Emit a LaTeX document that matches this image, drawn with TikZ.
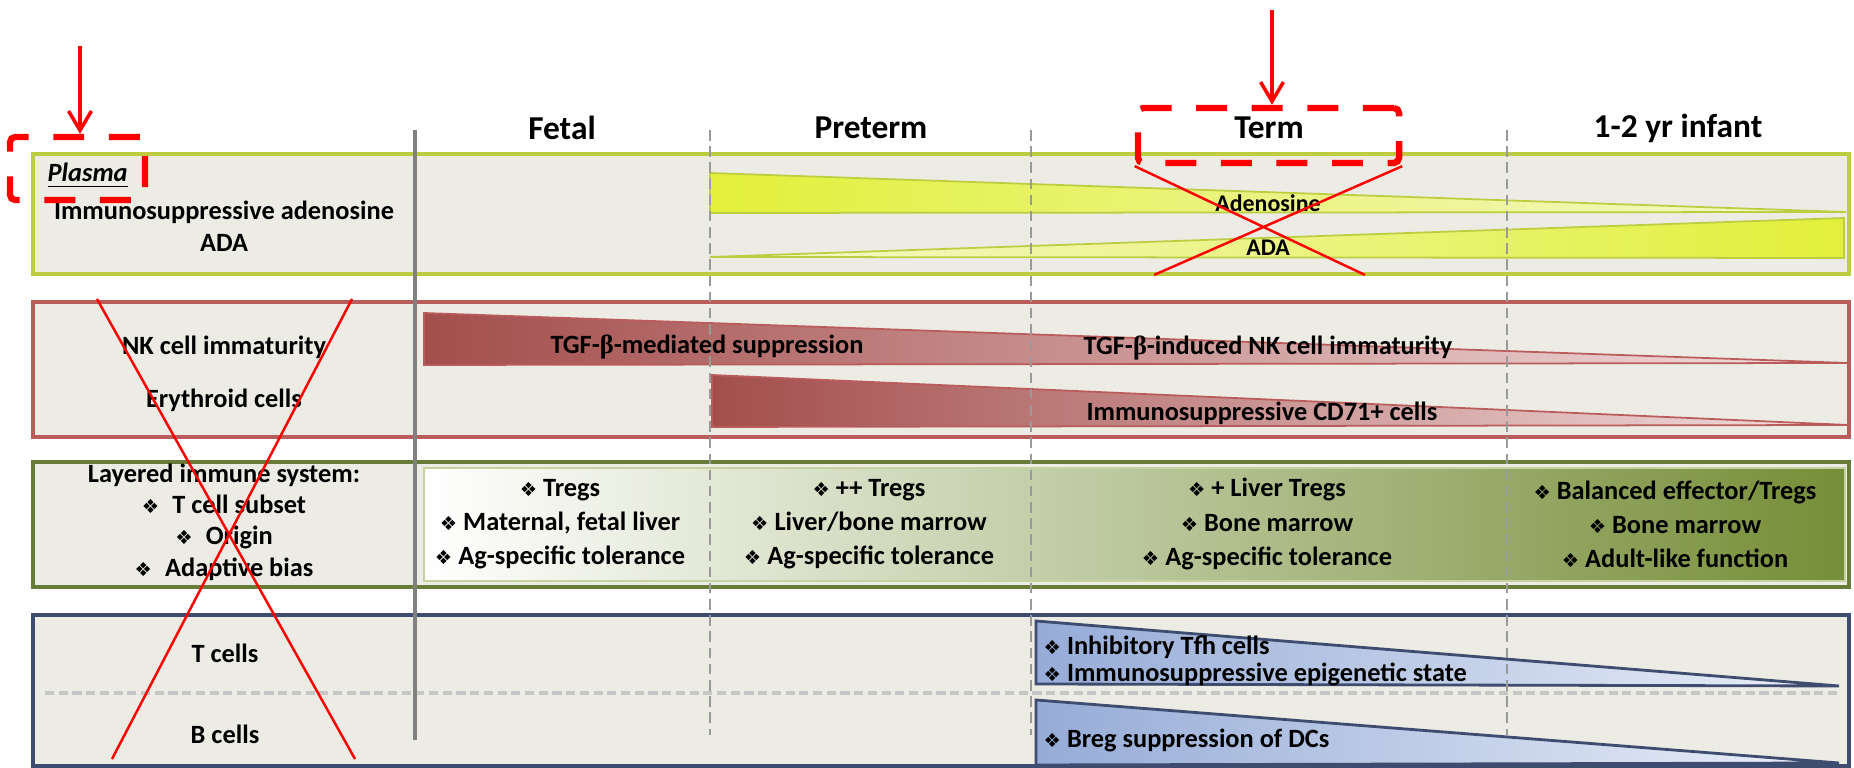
\documentclass[tikz,border=0pt]{standalone}
\usepackage{fontspec}
\setmainfont{Carlito}
\newfontfamily\dingfont{DejaVu Sans}
\newfontfamily\greekfont{Liberation Serif}
\usepackage{tikz}
\usetikzlibrary{arrows.meta}
\usetikzlibrary{positioning}
\definecolor{boxgray}{RGB}{236,236,228}
\definecolor{limeedge}{RGB}{188,206,64}
\definecolor{limefill}{RGB}{226,240,58}
\definecolor{limepale}{RGB}{244,248,205}
\definecolor{rededge}{RGB}{186,92,92}
\definecolor{redfill}{RGB}{163,78,76}
\definecolor{redpale}{RGB}{243,224,224}
\definecolor{oliveedge}{RGB}{104,124,58}
\definecolor{olivefill}{RGB}{118,142,56}
\definecolor{olivepale}{RGB}{196,210,160}
\definecolor{blueedge}{RGB}{62,76,112}
\definecolor{bluefill}{RGB}{150,172,215}
\definecolor{bluepale}{RGB}{236,240,249}
\definecolor{gridgray}{RGB}{128,128,128}
\newcommand{\dia}{{\dingfont\fontsize{5.5}{5.5}\selectfont ❖}}
\newcommand{\tgfb}{TGF-{\greekfont β}}

\begin{document}
\begin{tikzpicture}[
		x=0.01cm, y=-0.01cm,
		every node/.style={font=\bfseries\fontsize{7.5}{9.7}\selectfont, inner sep=0pt},
		header/.style={font=\bfseries\fontsize{9.5}{11}\selectfont},
		small/.style={font=\bfseries\fontsize{6.8}{8}\selectfont},
		rowbox/.style={fill=boxgray, line width=0.9pt},
		wedge/.style={line width=0.5pt},
		annot/.style={draw=red, line width=1.8pt, dash pattern=on 8.8pt off 7pt, rounded corners=1.5pt},
		cross/.style={draw=red, line width=0.7pt},
		pointer/.style={draw=red, line width=1pt, -{Straight Barb[length=5.5pt,width=6.5pt]}}
	]

	\useasboundingbox (0,0) rectangle (1854,768);

	% --- Row boxes ---
	\draw[rowbox, draw=limeedge] (33,154) rectangle (1849,274);
	\draw[rowbox, draw=rededge, line width=1.1pt] (33,302) rectangle (1849,437);
	\draw[rowbox, draw=oliveedge] (33,462) rectangle (1849,587);
	\draw[rowbox, draw=blueedge] (33,615) rectangle (1849,766);

	% --- Wedges ---
	\path[wedge, draw=limeedge, left color=limefill, right color=limepale] (710,173) -- (1846,212) -- (710,213) -- cycle;
	\path[wedge, draw=limeedge, left color=limepale, right color=limefill] (710,257) -- (1844,218) -- (1844,258) -- cycle;
	\path[wedge, draw=rededge, left color=redfill, right color=redpale] (424,313) -- (1848,363) -- (424,365) -- cycle;
	\path[wedge, draw=rededge, left color=redfill, right color=redpale] (712,375) -- (1848,425) -- (712,427) -- cycle;
	\path[draw=olivepale, line width=0.6pt, left color=white, right color=olivefill] (424,468) rectangle (1845,581);
	\path[wedge, draw=blueedge, line width=0.8pt, left color=bluefill, right color=bluepale] (1036,621) -- (1839,686) -- (1036,684) -- cycle;
	\path[wedge, draw=blueedge, line width=0.8pt, left color=bluefill, right color=bluepale] (1036,700) -- (1839,763) -- (1036,765) -- cycle;

	% --- Grid lines ---
	\draw[gridgray!45, line width=1.4pt, dash pattern=on 2.6pt off 1.3pt] (45,693) -- (1839,693);
	\draw[gridgray, line width=1pt] (415,130) -- (415,740);
	\foreach \x in {710,1031,1507}
	\draw[gridgray!80, line width=0.6pt, dash pattern=on 3pt off 1.6pt] (\x,130) -- (\x,735);

	% --- Headers ---
	\node[header] (fetal) at (562,128) {Fetal};
	\node[header] (preterm) at (871,128) {Preterm};
	\node[header] (term) at (1269,128) {Term};
	\node[header] (infant) at (1678,128) {1-2 yr infant};

	% --- Plasma row ---
	\node[anchor=west] (plasma) at (47,176) {\textit{\underline{Plasma}}};
	\node (adenosine) at (224,212) {Immunosuppressive adenosine};
	\node (ada) at (224,243) {ADA};
	\node[small] (adelab) at (1268,203) {Adenosine};
	\node[small] (adalab) at (1268,248) {ADA};

	% --- NK / erythroid row ---
	\node (nk) at (224,347) {NK cell immaturity};
	\node (ery) at (224,400) {Erythroid cells};
	\node (tgfmed) at (707,347) {\tgfb-mediated suppression};
	\node (tgfind) at (1268,348) {\tgfb-induced NK cell immaturity};
	\node (cd71) at (1262,413) {Immunosuppressive CD71+ cells};

	% --- Layered row ---
	\node[align=center, font=\bfseries\fontsize{7.5}{8.9}\selectfont] (layered) at (224,522)
	{Layered immune system:\\ \dia\enspace T cell subset\\ \dia\enspace Origin\\ \dia\enspace Adaptive bias};
	\node[align=center] (fetaltr) at (560,524)
	{\dia\ Tregs\\ \dia\ Maternal, fetal liver\\ \dia\ Ag-specific tolerance};
	\node[align=center] (pretermtr) at (869,524)
	{\dia\ ++ Tregs\\ \dia\ Liver/bone marrow\\ \dia\ Ag-specific tolerance};
	\node[align=center] (termtr) at (1267,524)
	{\dia\ + Liver Tregs\\ \dia\ Bone marrow\\ \dia\ Ag-specific tolerance};
	\node[align=center] (infanttr) at (1675,524)
	{\dia\ Balanced effector/Tregs\\ \dia\ Bone marrow\\ \dia\ Adult-like function};

	% --- T / B cell row ---
	\node (tcells) at (225,653) {T cells};
	\node (bcells) at (225,734) {B cells};
	\node[anchor=base west] (tfh) at (1043,655) {\dia\ Inhibitory Tfh cells};
	\node[anchor=base west] (epi) at (1043,682) {\dia\ Immunosuppressive epigenetic state};
	\node[anchor=base west] (breg) at (1043,748) {\dia\ Breg suppression of DCs};

	% --- Red marks ---
	\node[annot, minimum width=1.35cm, minimum height=0.63cm] (plasmabox) at (77.5,168.5) {};
	\node[annot, minimum width=2.61cm, minimum height=0.55cm] (termbox) at (1268.5,135.5) {};
	\coordinate (plasmatail) at (80,46);
	\coordinate (termtail) at (1272,10);
	\draw[pointer] (plasmatail) -- (plasmatail |- plasmabox.north);
	\draw[pointer] (termtail) -- (termtail |- termbox.north);

	\coordinate (termxl) at (1154,275);
	\coordinate (termxr) at (1365,275);
	\draw[cross] (termbox.south west) -- (termxr);
	\draw[cross] (termbox.south east) -- (termxl);

	\coordinate (bigxtl) at (97,299);
	\coordinate (bigxtr) at (352,299);
	\coordinate (bigxbl) at (112,759);
	\coordinate (bigxbr) at (355,759);
	\draw[cross] (bigxtl) -- (bigxbr);
	\draw[cross] (bigxtr) -- (bigxbl);

\end{tikzpicture}
\end{document}
